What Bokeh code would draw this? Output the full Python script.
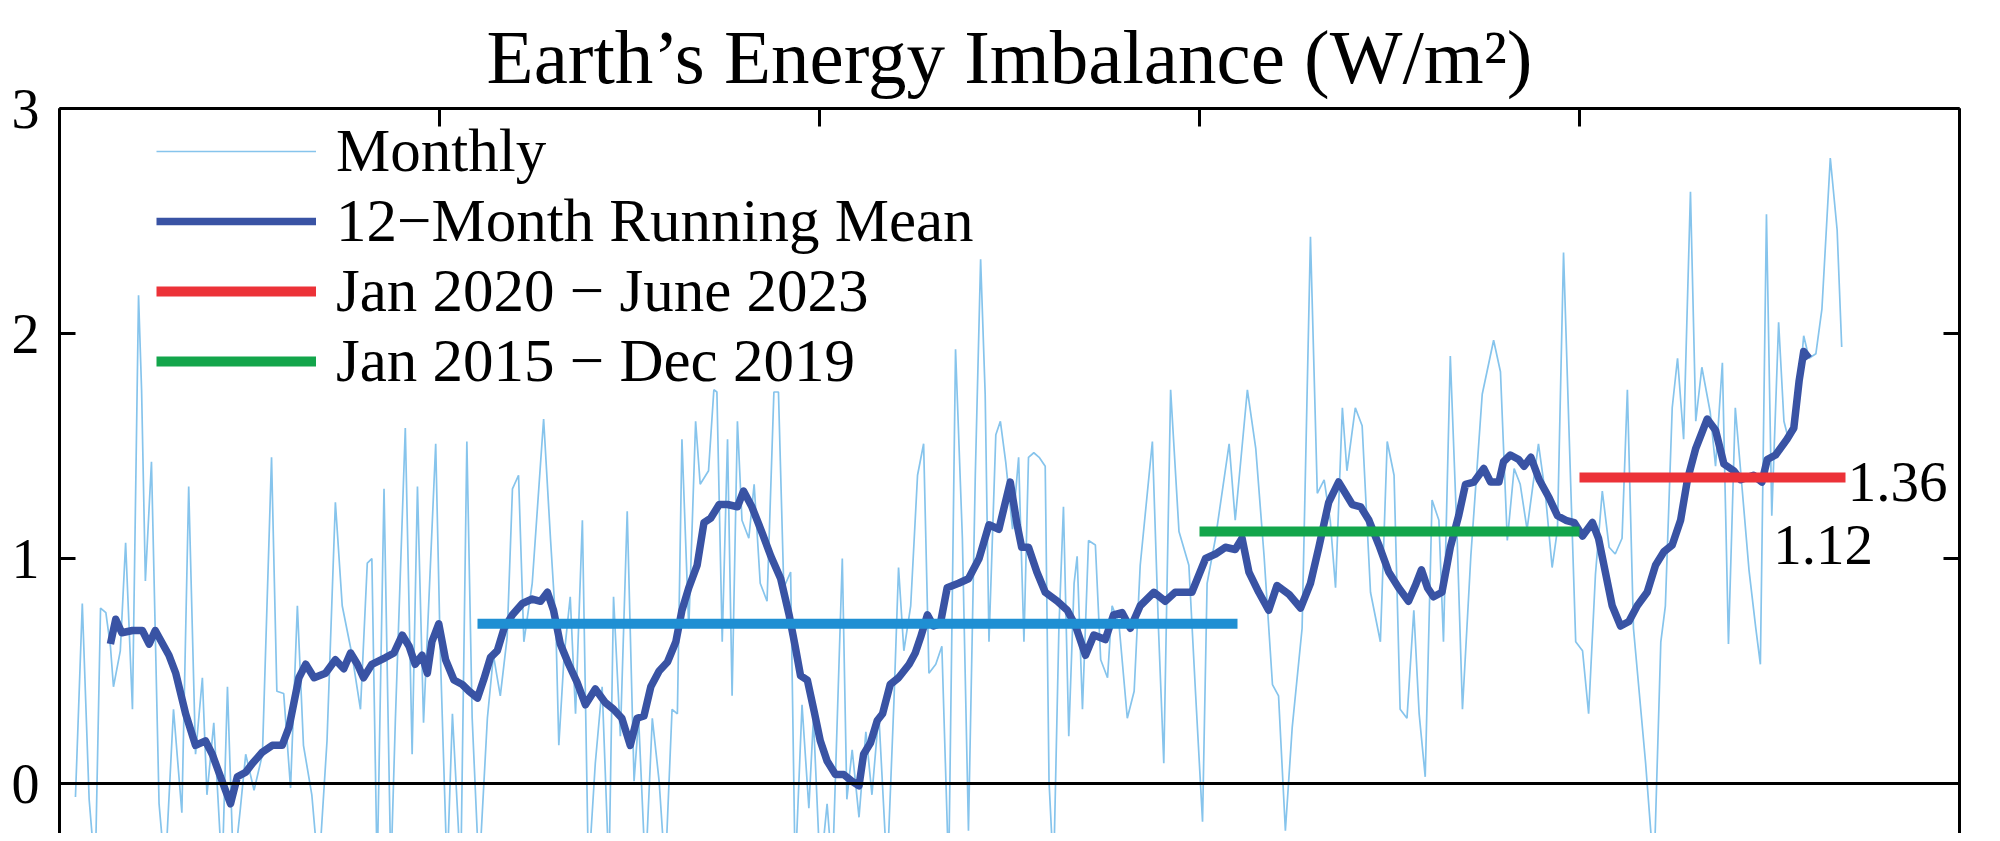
from bokeh.plotting import figure
from bokeh.models import (Range1d, LinearAxis, FixedTicker, Span, Legend, LegendItem,
                          Label, ColumnDataSource)
from bokeh.embed import file_html
from bokeh.resources import INLINE

# ---------------- data ----------------
title_text = "Earth\u2019s Energy Imbalance (W/m\u00b2)"

monthly_year = [
    2000.21, 2000.30, 2000.39, 2000.47, 2000.54, 2000.61, 2000.67, 2000.71, 2000.80, 2000.87, 2000.96,
    2001.04, 2001.08, 2001.13, 2001.21, 2001.31, 2001.39, 2001.50, 2001.61, 2001.70, 2001.79, 2001.88, 2001.94,
    2002.03, 2002.14, 2002.21, 2002.29, 2002.38, 2002.45, 2002.56, 2002.67, 2002.79, 2002.86, 2002.95,
    2003.04, 2003.13, 2003.21, 2003.32, 2003.41, 2003.52, 2003.63, 2003.72, 2003.85, 2003.96,
    2004.05, 2004.11, 2004.18, 2004.27, 2004.36, 2004.42, 2004.55, 2004.64, 2004.71, 2004.79, 2004.95,
    2005.01, 2005.10, 2005.17, 2005.28, 2005.36, 2005.43, 2005.52, 2005.63, 2005.71, 2005.80, 2005.89, 2005.96,
    2006.04, 2006.11, 2006.22, 2006.37, 2006.46, 2006.53, 2006.57, 2006.64, 2006.72, 2006.79, 2006.88, 2006.96,
    2007.05, 2007.14, 2007.23, 2007.29, 2007.38, 2007.47, 2007.56, 2007.62, 2007.71, 2007.80, 2007.89, 2007.97,
    2008.06, 2008.13, 2008.19, 2008.28, 2008.37, 2008.43, 2008.54, 2008.61, 2008.65, 2008.72, 2008.79, 2008.85,
    2008.92, 2008.98, 2009.07, 2009.14, 2009.22, 2009.31, 2009.40, 2009.46, 2009.53, 2009.62, 2009.68, 2009.77,
    2009.86, 2009.92, 2010.01, 2010.10, 2010.17, 2010.30, 2010.36, 2010.43, 2010.52, 2010.61, 2010.69, 2010.78,
    2010.89, 2010.98, 2011.04, 2011.11, 2011.20, 2011.29, 2011.37, 2011.44, 2011.53, 2011.61, 2011.70, 2011.79,
    2011.88, 2011.96, 2012.05, 2012.12, 2012.18, 2012.23, 2012.32, 2012.38, 2012.45, 2012.54, 2012.62, 2012.69,
    2012.75, 2012.82, 2012.89, 2012.97, 2013.02, 2013.08, 2013.15, 2013.21, 2013.28, 2013.35, 2013.39, 2013.46,
    2013.54, 2013.63, 2013.70, 2013.79, 2013.85, 2013.94, 2014.05, 2014.14, 2014.22, 2014.38, 2014.46, 2014.53,
    2014.62, 2014.73, 2014.86, 2014.95, 2015.04, 2015.10, 2015.21, 2015.39, 2015.47, 2015.63, 2015.74, 2015.85,
    2015.96, 2016.04, 2016.13, 2016.22, 2016.35, 2016.46, 2016.55, 2016.64, 2016.72, 2016.79, 2016.88, 2016.94,
    2017.05, 2017.14, 2017.25, 2017.38, 2017.47, 2017.56, 2017.64, 2017.73, 2017.82, 2017.89, 2017.97, 2018.06,
    2018.15, 2018.21, 2018.30, 2018.39, 2018.46, 2018.57, 2018.72, 2018.87, 2018.96, 2019.05, 2019.14, 2019.22,
    2019.31, 2019.46, 2019.55, 2019.64, 2019.71, 2019.79, 2019.86, 2019.95, 2020.04, 2020.12, 2020.21, 2020.30,
    2020.39, 2020.47, 2020.56, 2020.63, 2020.71, 2020.87, 2020.98, 2021.07, 2021.13, 2021.22, 2021.29, 2021.37,
    2021.46, 2021.53, 2021.61, 2021.72, 2021.79, 2021.88, 2021.96, 2022.05, 2022.14, 2022.23, 2022.32, 2022.38,
    2022.46, 2022.53, 2022.62, 2022.69, 2022.75, 2022.84, 2022.95, 2023.02, 2023.11, 2023.19, 2023.30, 2023.39,
    2023.45,
]
monthly_value = [
    -0.06, 0.80, -0.07, -0.40, 0.78, 0.76, 0.61, 0.43, 0.59, 1.07, 0.33,
    2.17, 1.75, 0.90, 1.43, -0.09, -0.40, 0.33, -0.13, 1.32, 0.13, 0.47, -0.05,
    0.27, -0.40, 0.43, -0.40, -0.11, 0.13, -0.03, 0.13, 1.45, 0.41, 0.40,
    -0.02, 0.79, 0.17, -0.05, -0.40, 0.19, 1.25, 0.79, 0.57, 0.33,
    0.98, 1.00, -0.40, 1.31, -0.40, 0.29, 1.58, 0.13, 1.32, 0.27, 1.51,
    0.59, -0.40, 0.31, -0.40, 1.52, 0.29, -0.40, 0.29, 0.57, 0.39, 0.65, 1.31,
    1.37, 0.63, 0.89, 1.62, 1.09, 0.71, 0.17, 0.57, 0.83, 0.31, 1.17, -0.40,
    0.09, 0.43, -0.40, 0.83, 0.21, 1.21, 0.01, 0.29, -0.40, 0.29, 0.01, -0.40,
    0.33, 0.31, 1.53, 0.69, 1.61, 1.33, 1.39, 1.75, 1.74, 0.63, 1.53, 0.39,
    1.61, 1.17, 1.09, 1.33, 0.89, 0.81, 1.74, 1.74, 0.87, 0.94, -0.40, 0.35,
    -0.11, 0.29, -0.40, -0.09, -0.40, 1.00, -0.07, 0.15, -0.15, 0.23, -0.05, 0.31,
    -0.40, 0.37, 0.96, 0.59, 0.79, 1.37, 1.51, 0.49, 0.53, 0.61, -0.40, 1.93,
    1.09, -0.21, 1.37, 2.33, 1.73, 0.63, 1.55, 1.61, 1.43, 1.13, 1.45, 0.63,
    1.45, 1.47, 1.45, 1.41, 0.01, -0.40, 0.69, 1.23, 0.21, 0.89, 1.01, 0.33,
    1.08, 1.06, 0.55, 0.47, 0.79, 0.71, 0.29, 0.41, 0.97, 1.52, 0.69, 0.09,
    1.75, 1.12, 0.97, 0.39, -0.17, 0.89, 1.09, 1.51, 1.17, 1.75, 1.49, 1.01,
    0.44, 0.39, -0.21, 0.25, 0.69, 2.43, 1.29, 1.35, 1.17, 0.87, 1.67, 1.39,
    1.67, 1.59, 0.85, 0.63, 1.52, 1.37, 0.33, 0.29, 0.77, 0.31, 0.03, 1.26,
    1.17, 0.63, 1.90, 1.09, 0.33, 1.01, 1.73, 1.97, 1.83, 1.08, 1.40, 1.33,
    1.13, 1.51, 1.29, 0.96, 1.13, 2.36, 1.59, 0.63, 0.59, 0.31, 0.93, 1.30,
    1.05, 1.02, 1.09, 1.75, 0.69, 0.09, -0.40, 0.63, 0.79, 1.67, 1.89, 1.53,
    2.63, 1.61, 1.85, 1.65, 1.41, 1.87, 0.62, 1.67, 1.31, 0.95, 0.69, 0.53,
    2.53, 1.19, 2.05, 1.61, 1.53, 1.57, 1.99, 1.89, 1.91, 2.11, 2.78, 2.46,
    1.94,
]

mean_year = [
    2000.67, 2000.74, 2000.82, 2000.96, 2001.09, 2001.18, 2001.26, 2001.44, 2001.53, 2001.66, 2001.79, 2001.92,
    2002.01, 2002.14, 2002.25, 2002.34, 2002.45, 2002.54, 2002.67, 2002.80, 2002.93, 2003.02, 2003.15, 2003.24,
    2003.35, 2003.50, 2003.63, 2003.74, 2003.83, 2003.92, 2004.00, 2004.11, 2004.29, 2004.40, 2004.51, 2004.60,
    2004.68, 2004.77, 2004.84, 2004.90, 2004.99, 2005.08, 2005.19, 2005.30, 2005.39, 2005.50, 2005.58, 2005.67,
    2005.76, 2005.85, 2005.96, 2006.09, 2006.22, 2006.33, 2006.42, 2006.50, 2006.59, 2006.70, 2006.81, 2006.92,
    2007.05, 2007.18, 2007.29, 2007.40, 2007.51, 2007.60, 2007.69, 2007.78, 2007.89, 2008.00, 2008.11, 2008.19,
    2008.28, 2008.39, 2008.48, 2008.57, 2008.68, 2008.79, 2008.92, 2009.00, 2009.11, 2009.25, 2009.36, 2009.49,
    2009.60, 2009.68, 2009.75, 2009.84, 2009.93, 2010.01, 2010.10, 2010.21, 2010.32, 2010.43, 2010.52, 2010.58,
    2010.67, 2010.76, 2010.83, 2010.93, 2011.04, 2011.18, 2011.26, 2011.33, 2011.42, 2011.50, 2011.59, 2011.68,
    2011.83, 2011.96, 2012.10, 2012.23, 2012.36, 2012.51, 2012.60, 2012.66, 2012.75, 2012.86, 2012.97, 2013.13,
    2013.26, 2013.37, 2013.50, 2013.61, 2013.76, 2013.87, 2013.98, 2014.09, 2014.22, 2014.40, 2014.55, 2014.68,
    2014.90, 2015.08, 2015.21, 2015.34, 2015.47, 2015.56, 2015.65, 2015.78, 2015.91, 2016.02, 2016.18, 2016.33,
    2016.46, 2016.57, 2016.70, 2016.83, 2016.92, 2017.01, 2017.12, 2017.23, 2017.36, 2017.49, 2017.62, 2017.75,
    2017.84, 2017.92, 2018.00, 2018.08, 2018.19, 2018.30, 2018.41, 2018.50, 2018.61, 2018.74, 2018.83, 2018.94,
    2019.00, 2019.09, 2019.20, 2019.27, 2019.36, 2019.47, 2019.60, 2019.71, 2019.82, 2019.93, 2020.04, 2020.17,
    2020.25, 2020.34, 2020.43, 2020.54, 2020.65, 2020.76, 2020.89, 2021.00, 2021.11, 2021.22, 2021.33, 2021.42,
    2021.53, 2021.68, 2021.79, 2021.90, 2022.03, 2022.12, 2022.29, 2022.40, 2022.47, 2022.58, 2022.73, 2022.82,
    2022.89, 2022.95, 2023.02,
]
mean_value = [
    0.62, 0.73, 0.67, 0.68, 0.68, 0.62, 0.68, 0.57, 0.49, 0.31, 0.17, 0.19,
    0.13, 0.01, -0.09, 0.03, 0.05, 0.09, 0.14, 0.17, 0.17, 0.25, 0.47, 0.53,
    0.47, 0.49, 0.55, 0.51, 0.58, 0.53, 0.47, 0.53, 0.56, 0.58, 0.66, 0.61,
    0.53, 0.57, 0.49, 0.63, 0.71, 0.55, 0.46, 0.44, 0.41, 0.38, 0.46, 0.56,
    0.59, 0.69, 0.75, 0.80, 0.82, 0.81, 0.85, 0.77, 0.62, 0.53, 0.45, 0.35,
    0.42, 0.36, 0.33, 0.29, 0.17, 0.29, 0.30, 0.43, 0.50, 0.54, 0.63, 0.77,
    0.87, 0.97, 1.16, 1.18, 1.24, 1.24, 1.23, 1.30, 1.23, 1.11, 1.01, 0.91,
    0.75, 0.61, 0.48, 0.46, 0.32, 0.19, 0.10, 0.04, 0.04, 0.01, -0.01, 0.13,
    0.18, 0.28, 0.31, 0.44, 0.47, 0.53, 0.58, 0.65, 0.75, 0.70, 0.71, 0.87,
    0.89, 0.91, 1.00, 1.15, 1.13, 1.34, 1.15, 1.05, 1.05, 0.94, 0.85, 0.81,
    0.77, 0.70, 0.57, 0.66, 0.64, 0.75, 0.76, 0.69, 0.79, 0.85, 0.81, 0.85,
    0.85, 1.00, 1.02, 1.05, 1.04, 1.09, 0.94, 0.85, 0.77, 0.88, 0.84, 0.78,
    0.89, 1.05, 1.25, 1.34, 1.29, 1.24, 1.23, 1.17, 1.06, 0.94, 0.87, 0.81,
    0.88, 0.95, 0.87, 0.83, 0.85, 1.05, 1.19, 1.33, 1.34, 1.40, 1.34, 1.34,
    1.43, 1.46, 1.44, 1.41, 1.45, 1.35, 1.27, 1.19, 1.17, 1.16, 1.10, 1.16,
    1.09, 0.94, 0.79, 0.70, 0.72, 0.79, 0.85, 0.97, 1.03, 1.06, 1.17, 1.35,
    1.49, 1.62, 1.57, 1.42, 1.39, 1.35, 1.37, 1.34, 1.44, 1.46, 1.53, 1.58,
    1.79, 1.92, 1.89,
]

period_start = [2005.5, 2015.0, 2020.0]
period_end = [2015.5, 2020.0, 2023.5]
period_mean = [0.71, 1.12, 1.36]
period_label = ["", "Jan 2015 \u2212 Dec 2019", "Jan 2020 \u2212 June 2023"]

x_ticks = [2000, 2005, 2010, 2015, 2020, 2025]
y_ticks = [0, 1, 2, 3]

# ---------------- styles ----------------
SERIF = "Liberation Serif"
C_MONTHLY = "#86c4ec"
C_MEAN = "#3953a4"
C_PERIOD = ["#1f8fd3", "#13a54b", "#ec3238"]

p = figure(frame_width=1900, frame_height=725,
           x_range=Range1d(2000, 2025), y_range=Range1d(-0.222, 3),
           output_backend="svg", toolbar_location=None,
           x_axis_location="above", y_axis_location="left",
           min_border_left=59, min_border_right=20, min_border_top=108, min_border_bottom=0)

p.title.text = title_text
p.title.text_font = SERIF
p.title.text_font_style = "normal"
p.title.text_font_size = "77px"
p.title.text_color = "black"
p.title.align = "center"
p.title.standoff = 17
p.title.offset = -9

p.outline_line_color = None
p.xgrid.visible = False
p.ygrid.visible = False
p.background_fill_color = "white"

# top axis (ticks only)
xa = p.xaxis[0]
xa.ticker = FixedTicker(ticks=x_ticks)
xa.major_label_text_color = None
xa.major_label_text_font_size = "1px"
xa.major_label_standoff = 0
xa.major_tick_in = 18
xa.major_tick_out = 0
xa.minor_tick_line_color = None
xa.major_tick_line_width = 3
xa.axis_line_width = 3

# left axis
ya = p.yaxis[0]
ya.ticker = FixedTicker(ticks=y_ticks)
ya.major_label_text_font = SERIF
ya.major_label_text_font_size = "56px"
ya.major_label_text_color = "black"
ya.major_label_standoff = 20
ya.major_tick_in = 16
ya.major_tick_out = 0
ya.minor_tick_line_color = None
ya.major_tick_line_width = 3
ya.axis_line_width = 3

# right axis (ticks only)
ra = LinearAxis(ticker=FixedTicker(ticks=y_ticks), major_label_text_color=None,
                major_label_text_font_size="1px",
                major_label_standoff=0, major_tick_in=16, major_tick_out=0,
                minor_tick_line_color=None, major_tick_line_width=3, axis_line_width=3)
p.add_layout(ra, "right")

p.add_layout(Span(location=0, dimension="width", line_color="black", line_width=3))

r_monthly = p.line(monthly_year, monthly_value, line_color=C_MONTHLY, line_width=1.7)
r_mean = p.line(mean_year, mean_value, line_color=C_MEAN, line_width=7.5, line_join="round")

seg_src = ColumnDataSource(dict(x0=period_start, x1=period_end, y=period_mean, c=C_PERIOD))
r_seg = p.segment(x0="x0", y0="y", x1="x1", y1="y", line_color="c", line_width=10, source=seg_src)

legend = Legend(items=[
    LegendItem(label="Monthly", renderers=[r_monthly]),
    LegendItem(label="12\u2212Month Running Mean", renderers=[r_mean]),
    LegendItem(label=period_label[2], renderers=[r_seg], index=2),
    LegendItem(label=period_label[1], renderers=[r_seg], index=1),
], location=(97, 437), glyph_width=160, glyph_height=40, label_height=40,
    label_standoff=20, label_text_font=SERIF, label_text_font_size="61px",
    label_text_color="black",
    padding=10, spacing=0, margin=0, border_line_color=None, background_fill_alpha=0)
p.add_layout(legend)

p.add_layout(Label(x=period_end[2] + 0.03, y=period_mean[2] - 0.02, text=f"{period_mean[2]:.2f}",
                   text_font=SERIF, text_font_size="57px", text_baseline="middle", text_color="black"))
p.add_layout(Label(x=period_end[2] - 0.95, y=period_mean[1] - 0.06, text=f"{period_mean[1]:.2f}",
                   text_font=SERIF, text_font_size="57px", text_baseline="middle", text_color="black"))

open("out.html", "w").write(file_html(p, INLINE))
